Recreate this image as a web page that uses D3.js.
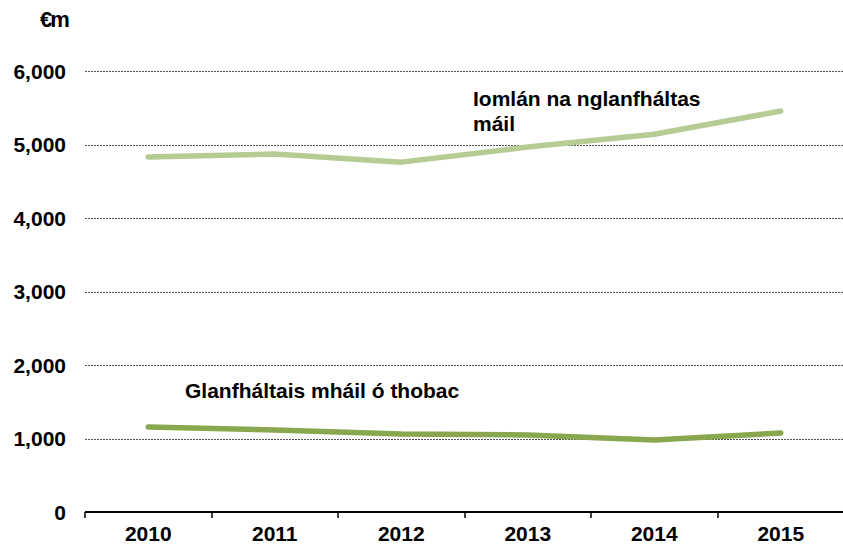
<!DOCTYPE html>
<html>
<head>
<meta charset="utf-8">
<script src="https://cdn.jsdelivr.net/npm/d3@7"></script>
<style>
  body { margin: 0; background: #fff; }
  text { font-family: "Liberation Sans", Arial, sans-serif; font-weight: bold; fill: #000; }
</style>
</head>
<body>
<div id="chart"></div>
<script>
// Years along the x axis
const years = ["2010", "2011", "2012", "2013", "2014", "2015"];
// Total net excise receipts (€m)
const totalExcise = [4830, 4870, 4760, 4965, 5140, 5455];
// Net tobacco excise receipts (€m)
const tobaccoExcise = [1156, 1115, 1060, 1048, 980, 1075];
const yTicks = [0, 1000, 2000, 3000, 4000, 5000, 6000];

const width = 843, height = 548;
const plotLeft = 85, plotRight = 844, plotTop = 71, plotBottom = 512;
const fontSize = "21px";

const svg = d3.select("#chart").append("svg")
    .attr("width", width)
    .attr("height", height);

const x = d3.scaleBand()
    .domain(years)
    .range([plotLeft, plotRight])
    .padding(0);

const y = d3.scaleLinear()
    .domain([0, 6000])
    .range([plotBottom, plotTop]);

// dotted gridlines
svg.append("g")
    .selectAll("line")
    .data(yTicks.filter(d => d > 0))
    .enter().append("line")
    .attr("x1", plotLeft)
    .attr("x2", 843)
    .attr("y1", d => Math.round(y(d)) + 0.5)
    .attr("y2", d => Math.round(y(d)) + 0.5)
    .attr("stroke", "#555")
    .attr("stroke-width", 1)
    .attr("stroke-dasharray", "2,1");

// y tick labels
svg.append("g")
    .selectAll("text")
    .data(yTicks)
    .enter().append("text")
    .attr("x", 66)
    .attr("y", d => y(d) + 7.5)
    .attr("text-anchor", "end")
    .style("font-size", fontSize)
    .text(d => d3.format(",")(d));

// unit label
svg.append("text")
    .attr("x", 40)
    .attr("y", 27)
    .style("font-size", "22px")
    .style("letter-spacing", "-2px")
    .text("€m");

// x axis
const xAxis = svg.append("g")
    .attr("transform", `translate(0,${plotBottom})`);
xAxis.append("line")
    .attr("x1", plotLeft)
    .attr("x2", 843)
    .attr("stroke", "#000")
    .attr("stroke-width", 2);
xAxis.selectAll(".tick")
    .data(years)
    .enter().append("line")
    .attr("class", "tick")
    .attr("x1", d => Math.round(x(d)))
    .attr("x2", d => Math.round(x(d)))
    .attr("y1", 0)
    .attr("y2", 6)
    .attr("stroke", "#000")
    .attr("stroke-width", 1.5);
xAxis.selectAll("text")
    .data(years)
    .enter().append("text")
    .attr("x", d => x(d) + x.bandwidth() / 2)
    .attr("y", 29)
    .attr("text-anchor", "middle")
    .style("font-size", fontSize)
    .text(d => d);

const line = d3.line()
    .x((d, i) => x(years[i]) + x.bandwidth() / 2)
    .y(d => y(d));

svg.append("path")
    .datum(totalExcise)
    .attr("d", line)
    .attr("fill", "none")
    .attr("stroke", "#b5cc94")
    .attr("stroke-width", 5.5)
    .attr("stroke-linecap", "round")
    .attr("stroke-linejoin", "round");

svg.append("path")
    .datum(tobaccoExcise)
    .attr("d", line)
    .attr("fill", "none")
    .attr("stroke", "#89a74e")
    .attr("stroke-width", 5.5)
    .attr("stroke-linecap", "round")
    .attr("stroke-linejoin", "round");

// series labels
svg.append("text")
    .attr("x", 473)
    .attr("y", 106)
    .style("font-size", fontSize)
    .text("Iomlán na nglanfháltas");
svg.append("text")
    .attr("x", 473)
    .attr("y", 131)
    .style("font-size", fontSize)
    .text("máil");
svg.append("text")
    .attr("x", 185)
    .attr("y", 398)
    .style("font-size", fontSize)
    .text("Glanfháltais mháil ó thobac");
</script>
</body>
</html>
